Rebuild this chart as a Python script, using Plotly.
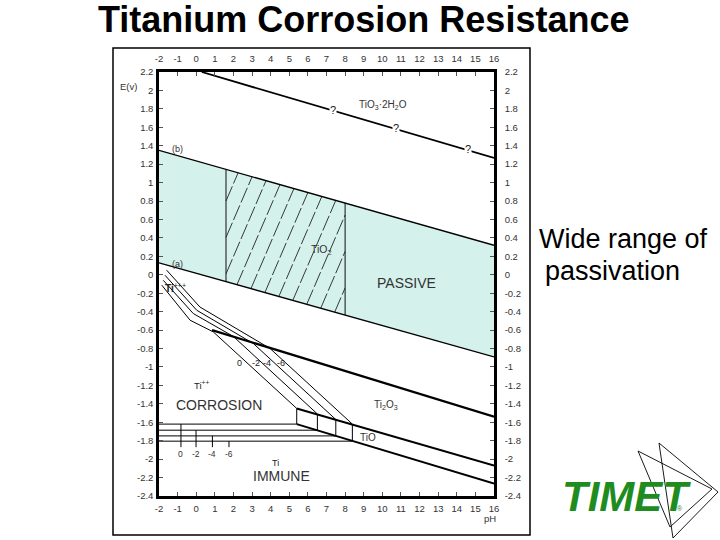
import numpy as np
import plotly.graph_objects as go

# ---------------- data ----------------
ph_ticks = list(range(-2, 17))
e_ticks = [2.2, 2.0, 1.8, 1.6, 1.4, 1.2, 1.0, 0.8, 0.6, 0.4, 0.2, 0.0, -0.2, -0.4, -0.6, -0.8,
           -1.0, -1.2, -1.4, -1.6, -1.8, -2.0, -2.2, -2.4]
e_tick_text = ["2.2", "2", "1.8", "1.6", "1.4", "1.2", "1", "0.8", "0.6", "0.4", "0.2", "0", "-0.2",
               "-0.4", "-0.6", "-0.8", "-1", "-1.2", "-1.4", "-1.6", "-1.8", "-2", "-2.2", "-2.4"]

# TiO3.2H2O boundary (uncertain, marked with ?)
top_ph = [0.3, 16.0]
top_E = [2.2, 1.267]
question_ph = [7.35, 10.74, 14.6]

# water stability lines (b) oxygen, (a) hydrogen
line_b_ph = [-2.0, 16.0]
line_b_E = [1.35, 0.32]
line_a_ph = [-2.0, 16.0]
line_a_E = [0.13, -0.89]

# hatched TiO2 band limits (pH)
tio2_left_ph = 1.6
tio2_right_ph = 8.0

# Ti3+/Ti2+ concentration lines (log c = 0, -2, -4, -6)
conc_labels = ["0", "-2", "-4", "-6"]
ti3_ph = [[-1.85, -0.33, 0.92, 5.40],
          [-1.77, -0.16, 2.00, 6.51],
          [-1.68, 0.03, 3.07, 7.50],
          [-1.59, 0.20, 3.97, 8.39]]
ti3_E = [[-0.113, -0.493, -0.62, -1.45],
         [-0.06, -0.42, -0.67, -1.51],
         [-0.005, -0.385, -0.746, -1.57],
         [0.05, -0.35, -0.80, -1.62]]
ti3_label_ph = [2.35, 3.2, 3.8, 4.56]
ti3_label_E = -0.96

# Ti2O3 upper boundary (heavy)
heavy_ph = [0.85, 16.0]
heavy_E = [-0.60, -1.54]
# TiO / Ti2O3 boundary
tio_top_ph = [5.40, 16.0]
tio_top_E = [-1.45, -2.07]
# Ti / TiO boundary
tio_bot_ph = [5.40, 16.0]
tio_bot_E = [-1.62, -2.265]

# Ti / Ti2+ horizontal lines
ti2_E = [-1.62, -1.686, -1.748, -1.805]
ti2_end_ph = [5.40, 6.51, 7.50, 8.39]
ti2_tick_ph = [-0.82, -0.01, 0.87, 1.76]
ti2_tick_bottom_E = -1.87
ti2_label_E = -1.94

# ---------------- figure ----------------
L, T, W, H = 159, 72, 335, 424
FONT = "Arial, Liberation Sans, sans-serif"


def pap(x, y):
    return (x - L) / W, (T + H - y) / H


def Ea(p):
    return float(np.interp(p, line_a_ph, line_a_E))


def Eb(p):
    return float(np.interp(p, line_b_ph, line_b_E))


fig = go.Figure()

# cyan passive band
fig.add_trace(go.Scatter(
    x=[line_b_ph[0], line_b_ph[1], line_a_ph[1], line_a_ph[0]],
    y=[line_b_E[0], line_b_E[1], line_a_E[1], line_a_E[0]],
    fill="toself", fillcolor="#d5f1ec", line=dict(width=0), mode="lines",
    hoverinfo="skip", showlegend=False))

# hatch lines inside TiO2 band
k = 0.47
kb = (line_b_E[1] - line_b_E[0]) / (line_b_ph[1] - line_b_ph[0])
hx, hy = [], []
for p0 in np.arange(-0.06, tio2_right_ph, 0.75):
    e0 = Ea(p0)
    ps = max(p0, tio2_left_ph)
    es = e0 + k * (ps - p0)
    if es >= Eb(ps):
        continue
    pint = (line_b_E[0] - kb * line_b_ph[0] - e0 + k * p0) / (k - kb)
    pe = min(pint, tio2_right_ph)
    ee = e0 + k * (pe - p0)
    hx += [ps, pe, None]
    hy += [es, ee, None]
fig.add_trace(go.Scatter(x=hx, y=hy, mode="lines",
                         line=dict(color="#222", width=0.9, dash="16px,3px"),
                         hoverinfo="skip", showlegend=False))

# verticals of hatched band
for p in [tio2_left_ph, tio2_right_ph]:
    fig.add_trace(go.Scatter(x=[p, p], y=[Ea(p), Eb(p)], mode="lines",
                             line=dict(color="#222", width=1.1),
                             hoverinfo="skip", showlegend=False))


def line(xs, ys, w=1.0, color="black"):
    fig.add_trace(go.Scatter(x=xs, y=ys, mode="lines", line=dict(color=color, width=w),
                             hoverinfo="skip", showlegend=False))


line(top_ph, top_E, 1.8)
line(line_b_ph, line_b_E, 1.3)
line(line_a_ph, line_a_E, 1.3)
line(heavy_ph, heavy_E, 2.2)
line(tio_top_ph, tio_top_E, 2.0)
line(tio_bot_ph, tio_bot_E, 2.0)
for xs, ys in zip(ti3_ph, ti3_E):
    line(xs, ys, 1.0)
for p in ti2_end_ph:
    line([p, p], [float(np.interp(p, tio_top_ph, tio_top_E)),
                  float(np.interp(p, tio_bot_ph, tio_bot_E))], 1.0)
for e, pend in zip(ti2_E, ti2_end_ph):
    line([-2, pend], [e, e], 1.0)
for p, e in zip(ti2_tick_ph, ti2_E):
    line([p, p], [e, ti2_tick_bottom_E], 1.0)

# invisible trace for top/right axes
fig.add_trace(go.Scatter(x=[-2, 16], y=[-2.4, 2.2], xaxis="x2", yaxis="y2", mode="markers",
                         marker=dict(opacity=0), hoverinfo="skip", showlegend=False))

ann = []


def text(x, y, s, size=10, color="#333", xref="x", yref="y", **kw):
    d = dict(x=x, y=y, text=s, showarrow=False, xref=xref, yref=yref,
             xanchor="center", yanchor="middle",
             font=dict(family=FONT, size=size, color=color))
    d.update(kw)
    ann.append(d)


for q in question_ph:
    text(q, float(np.interp(q, top_ph, top_E)) + 0.01, "?", 11, "#222", bgcolor="white", borderpad=0)

text(10.04, 1.84, "TiO<sub>3</sub>·2H<sub>2</sub>O", 10)
text(-1.0, 1.36, "(b)", 9)
text(-1.0, 0.12, "(a)", 9)
text(6.71, 0.27, "TiO<sub>2</sub>", 10.5)
text(11.28, -0.09, "PASSIVE", 14)
text(-1.1, -0.14, "<b>Ti</b><sup>+++</sup>", 10, "#222")
text(0.26, -1.20, "Ti<sup>++</sup>", 9.5, "#222")
text(1.23, -1.415, "CORROSION", 14)
text(10.2, -1.415, "Ti<sub>2</sub>O<sub>3</sub>", 10)
text(9.24, -1.76, "TiO", 10)
text(4.24, -2.04, "Ti", 9, "#222")
text(4.6, -2.18, "IMMUNE", 14)
for p, s in zip(ti3_label_ph, conc_labels):
    text(p, ti3_label_E, s, 9, "#222")
for p, s in zip(ti2_tick_ph, conc_labels):
    text(p, ti2_label_E, s, 8.5, "#333")

# page-level texts
x, y = pap(128, 87)
text(x, y, "E(v)", 9.5, "#333", "paper", "paper")
x, y = pap(490, 518)
text(x, y, "pH", 9.5, "#333", "paper", "paper")
x, y = pap(363, 20)
text(x, y, "<b>Titanium Corrosion Resistance</b>", 36, "black", "paper", "paper")
x, y = pap(537, 239)
text(x, y, "Wide range of", 27, "black", "paper", "paper", xanchor="left")
x, y = pap(543, 271)
text(x, y, "passivation", 27, "black", "paper", "paper", xanchor="left")
x, y = pap(626, 497)
text(x, y, "<b><i>TIMET</i></b>", 42, "#1e8c1e", "paper", "paper")
x, y = pap(680, 508)
text(x, y, "®", 7, "#1e8c1e", "paper", "paper")

shapes = []
x0, y0 = pap(113, 48)
x1, y1 = pap(530, 535)
shapes.append(dict(type="rect", xref="paper", yref="paper", x0=x0, y0=y1, x1=x1, y1=y0,
                   line=dict(color="black", width=1.5), layer="below"))


def tri(pts):
    p = [pap(a, b) for a, b in pts]
    path = "M " + " L ".join(f"{a:.4f},{b:.4f}" for a, b in p) + " Z"
    shapes.append(dict(type="path", xref="paper", yref="paper", path=path,
                       line=dict(color="black", width=0.9)))


tri([(659, 443), (718, 492), (673, 538)])
tri([(638, 451), (712, 489), (670, 527)])

axis_common = dict(showgrid=False, zeroline=False, showline=True, linecolor="black", linewidth=2.5,
                   ticks="inside", ticklen=4, tickwidth=1, tickcolor="#555",
                   tickfont=dict(family=FONT, size=9.5, color="#333"))

fig.update_layout(
    width=720, height=540,
    margin=dict(l=L, r=720 - L - W, t=T, b=540 - T - H),
    paper_bgcolor="white", plot_bgcolor="white",
    showlegend=False,
    xaxis=dict(range=[-2, 16], tickvals=ph_ticks, ticktext=[str(v) for v in ph_ticks],
               ticklabelstandoff=2, **axis_common),
    xaxis2=dict(range=[-2, 16], tickvals=ph_ticks, ticktext=[str(v) for v in ph_ticks],
                overlaying="x", side="top", ticklabelstandoff=3, **axis_common),
    yaxis=dict(range=[-2.4, 2.2], tickvals=e_ticks, ticktext=e_tick_text,
               ticklabelstandoff=1, **axis_common),
    yaxis2=dict(range=[-2.4, 2.2], tickvals=e_ticks, ticktext=e_tick_text,
                overlaying="y", side="right", ticklabelstandoff=6, **axis_common),
    annotations=ann, shapes=shapes,
)

fig.write_html("out.html", config={"displayModeBar": False},
               post_script="document.body.style.margin='0';document.body.style.padding='0';")
